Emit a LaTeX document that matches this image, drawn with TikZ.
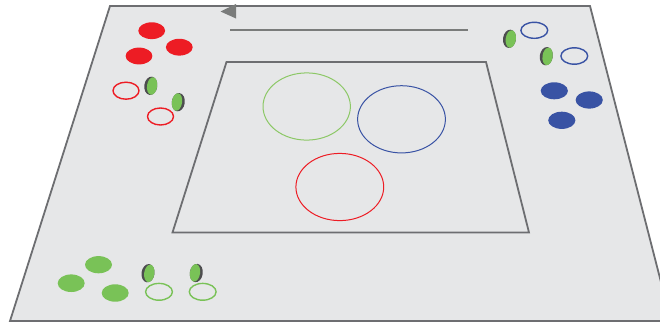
\documentclass[tikz,border=0pt]{standalone}
\definecolor{boardfill}{HTML}{E6E7E8}
\definecolor{boardline}{HTML}{6D6E71}
\definecolor{arrowgray}{HTML}{7A7C7B}
\definecolor{myred}{HTML}{ED1C24}
\definecolor{myblue}{HTML}{3953A4}
\definecolor{mygreen}{HTML}{79C257}
\definecolor{biggreen}{HTML}{8CC866}
\definecolor{puckdark}{HTML}{4D4D4F}
\tikzset{
  board/.style={fill=boardfill, draw=boardline, line width=1.8pt, line join=miter},
  field/.style={draw=boardline, line width=1.8pt},
  redfill/.style={fill=myred},
  redring/.style={draw=myred, line width=1.4pt},
  bluefill/.style={fill=myblue},
  bluering/.style={draw=myblue, line width=1.4pt},
  greenfill/.style={fill=mygreen},
  greenring/.style={draw=mygreen, line width=1.4pt},
  puckL/.pic={\begin{scope}[rotate=-8]\fill[puckdark] (0,0) ellipse (6.5 and 9.2); \fill[mygreen] (1.3,0) ellipse (5.1 and 8.8);\end{scope}},
  puckR/.pic={\begin{scope}[rotate=-8]\fill[puckdark] (0,0) ellipse (6.5 and 9.2); \fill[mygreen] (-1.3,0) ellipse (5.1 and 8.8);\end{scope}}
}
\begin{document}
\begin{tikzpicture}[x=1pt,y=-1pt]
\useasboundingbox (0,0) rectangle (660,322);
\clip (0,0) rectangle (660,322);
% board
\draw[board] (110,6) -- (590,6) -- (671,321) -- (10,321) -- cycle;
% inner field
\draw[field] (226.5,62) -- (486,62) -- (529,232.5) -- (172.5,232.5) -- cycle;
% top line and arrowhead
\coordinate (lineA) at (230,30);
\coordinate (lineB) at (468,30);
\draw[draw=arrowgray, line width=2.2pt] (lineA) -- (lineB);
\fill[arrowgray] (220.5,11.5) -- (236,4) -- (236,18.5) -- cycle;
% big rings
\draw[draw=biggreen, line width=1pt] (306.7,106.5) ellipse (43.7 and 33.6);
\draw[draw=myblue, line width=1pt] (401.5,119.3) ellipse (43.9 and 33.6);
\draw[draw=myred, line width=1pt] (339.8,187) ellipse (43.9 and 33.6);
% red group
\fill[redfill] (151.7,30.7) ellipse (13.4 and 8.4);
\fill[redfill] (179.3,47.2) ellipse (13.4 and 8.4);
\fill[redfill] (139,56) ellipse (13.4 and 8.4);
\draw[redring] (126,90.7) ellipse (13 and 8.5);
\draw[redring] (160.5,116.5) ellipse (13 and 8.5);
\pic at (150.8,85.8) {puckL};
\pic at (178.3,102.2) {puckR};
% blue group
\draw[bluering] (534.3,30.3) ellipse (13.4 and 8);
\draw[bluering] (574.3,56) ellipse (13.4 and 8.2);
\fill[bluefill] (554.3,90.8) ellipse (13.6 and 8.5);
\fill[bluefill] (589.2,100) ellipse (13.6 and 8.6);
\fill[bluefill] (561.8,120.3) ellipse (13.6 and 8.6);
\pic at (509.5,38.8) {puckL};
\pic at (546.3,56.2) {puckL};
% green group
\fill[greenfill] (98.5,264.7) ellipse (13.5 and 8.6);
\fill[greenfill] (71.2,283.2) ellipse (13.5 and 8.8);
\fill[greenfill] (115.2,293) ellipse (13.5 and 8.7);
\draw[greenring] (159,291.8) ellipse (13.4 and 8.4);
\draw[greenring] (202.7,291.8) ellipse (13.4 and 8.4);
\pic at (148,273.2) {puckL};
\pic at (196.3,273) {puckR};
\end{tikzpicture}
\end{document}
